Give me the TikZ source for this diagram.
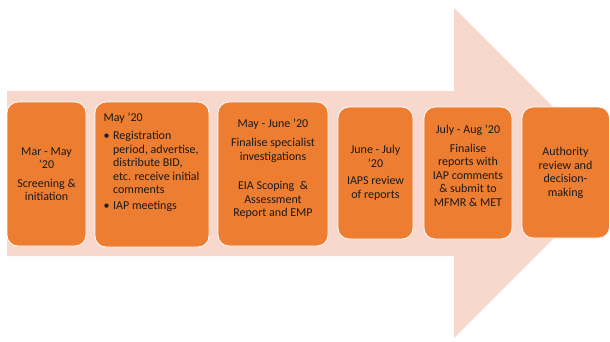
\documentclass[tikz,border=0pt]{standalone}
\usepackage{fontspec}
\setmainfont{Carlito}
\definecolor{arrowpink}{HTML}{F8D8CD}
\definecolor{boxorange}{HTML}{ED7D31}
\definecolor{txt}{HTML}{1A1A1A}
\newcommand{\bl}{\textbullet\hspace{3.5pt}}
\newcommand{\ind}{\phantom{\textbullet}\hspace{3.5pt}}
\begin{document}
\begin{tikzpicture}[x=1pt,y=-1pt,
  stagebox/.style={draw=white,line width=0.8pt,fill=boxorange,rounded corners=11pt},
  stagetext/.style={inner sep=0pt,align=center,text=txt,font=\fontsize{12}{13.5}\selectfont},
  listtext/.style={inner sep=0pt,align=left,text=txt,font=\fontsize{12}{13.5}\selectfont}]
\useasboundingbox (0,0) rectangle (610,341);
\clip (0,0) rectangle (610,341);
% big arrow
\fill[arrowpink] (7,91) -- (454,91) -- (454,8) -- (619,173) -- (454,338) -- (454,256) -- (7,256) -- cycle;
% boxes
\draw[stagebox] (7,102) rectangle (86,246);
\draw[stagebox] (95,102) rectangle (209,247);
\draw[stagebox] (218,102) rectangle (328,246);
\draw[stagebox] (338,107) rectangle (413,239);
\draw[stagebox] (424,107) rectangle (512,239);
\draw[stagebox] (522,107) rectangle (609.5,238);
% texts
\node[stagetext] (t1) at (46.5,174) {Mar - May\\’20\\[5pt]Screening \&\\initiation};
\node[listtext,anchor=north west] (t2) at (103.5,112.5) {May ’20\\[5pt]\bl Registration\\\ind period, advertise,\\\ind distribute BID,\\\ind etc. receive initial\\\ind comments\\[2.5pt]\bl IAP meetings};
\node[stagetext] (t3) at (273,168.5) {May - June ’20\\[6pt]Finalise specialist\\investigations\\[16pt]EIA Scoping\ \ \&\\Assessment\\Report and EMP};
\node[stagetext] (t4) at (375.5,173) {June - July\\’20\\[4pt]IAPS review\\of reports};
\node[stagetext] (t5) at (468,166) {July - Aug ’20\\[5pt]Finalise\\reports with\\IAP comments\\\& submit to\\MFMR \& MET};
\node[stagetext] (t6) at (565.5,173) {Authority\\review and\\decision-\\making};
\end{tikzpicture}
\end{document}
